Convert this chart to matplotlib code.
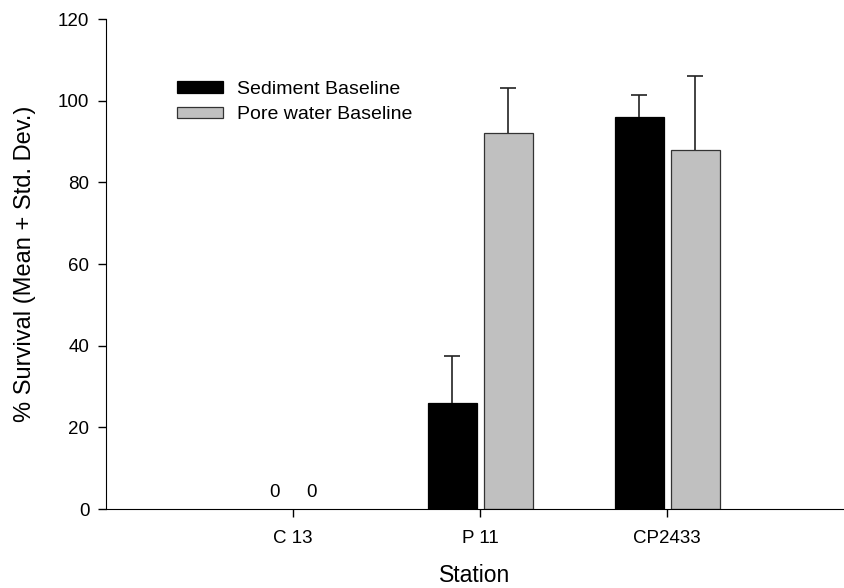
import matplotlib
matplotlib.use("Agg")
import matplotlib.pyplot as plt
from matplotlib.patches import Patch
import numpy as np

plt.rcParams['font.family'] = ['Liberation Sans', 'DejaVu Sans']

stations = ["C 13", "P 11", "CP2433"]
sediment_mean = [0, 26, 96]
sediment_sd = [0, 11.4, 5.5]
porewater_mean = [0, 92, 88]
porewater_sd = [0, 11, 18]
series_names = ["Sediment Baseline", "Pore water Baseline"]
series_colors = ['black', '#c0c0c0']
series_edges = ['black', '#333333']
yticks = [0, 20, 40, 60, 80, 100, 120]

fig = plt.figure(figsize=(8.44, 5.88), dpi=100)
ax = fig.add_axes([106/844, 1-509/588, (843-106)/844, (509-19)/588])

x = np.arange(len(stations))
w = 0.262
off = 0.15
cap = 0.043

def draw(vals, sds, pos, color, edge):
    bars = ax.bar(pos, vals, width=w, color=color, edgecolor=edge,
                  linewidth=0.9, zorder=2)
    for patch, v in zip(bars.patches, vals):
        if v == 0:
            patch.set_linewidth(0)
    for p, v, s in zip(pos, vals, sds):
        if s > 0:
            ax.vlines(p, v, v + s, color='#222222', linewidth=1.2, zorder=3)
            ax.hlines(v + s, p - cap, p + cap, color='#222222', linewidth=1.2, zorder=3)

draw(sediment_mean, sediment_sd, x - off, series_colors[0], series_edges[0])
draw(porewater_mean, porewater_sd, x + off, series_colors[1], series_edges[1])

# zero value labels
for i, (a, b) in enumerate(zip(sediment_mean, porewater_mean)):
    if a == 0:
        ax.text(x[i] - 0.097, 2.9, "0", ha='center', va='baseline', fontsize=13.5)
    if b == 0:
        ax.text(x[i] + 0.097, 2.9, "0", ha='center', va='baseline', fontsize=13.5)

ax.set_xlim(-1.0, 2.94)
ax.set_ylim(0, 120)
ax.set_yticks(yticks)
ax.set_xticks(x)
ax.set_xticklabels(stations, fontsize=13.5)
ax.tick_params(axis='y', labelsize=13.5, direction='out', length=6, width=1, pad=6)
ax.tick_params(axis='x', direction='out', length=6, width=1, pad=9)
ax.spines['top'].set_visible(False)
ax.spines['right'].set_visible(False)
ax.set_xlabel("Station", fontsize=16.5, labelpad=12)
ax.set_ylabel("% Survival (Mean + Std. Dev.)", fontsize=17, labelpad=16)

handles = [Patch(facecolor=c, edgecolor=e, linewidth=0.9) for c, e in zip(series_colors, series_edges)]
ax.legend(handles, series_names, loc='upper left', bbox_to_anchor=(0.0963, 0.874),
          frameon=False, fontsize=14,
          handlelength=2.37, handleheight=0.55, handletextpad=0.72, labelspacing=0.45,
          borderaxespad=0, borderpad=0)

fig.savefig("out.png", dpi=100)
